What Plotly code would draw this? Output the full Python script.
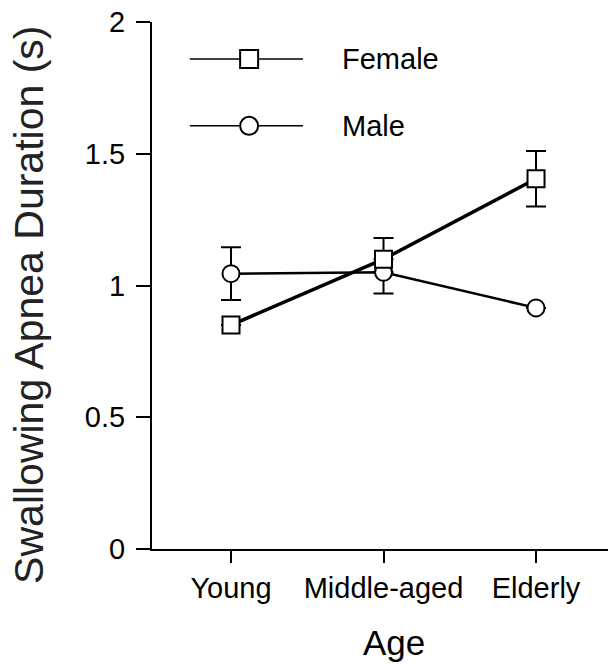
import plotly.graph_objects as go

categories = ["Young", "Middle-aged", "Elderly"]
female = [0.85, 1.10, 1.405]
female_err_plus = [0.0, 0.08, 0.105]
female_err_minus = [0.0, 0.0, 0.105]
male = [1.045, 1.05, 0.915]
male_err_plus = [0.10, 0.0, 0.0]
male_err_minus = [0.10, 0.08, 0.0]
y_tickvals = [0, 0.5, 1, 1.5, 2]
y_ticktext = ["0", "0.5", "1", "1.5", "2"]

FONT = "Arial, Liberation Sans, Helvetica, sans-serif"

fig = go.Figure()
fig.add_trace(go.Scatter(
    x=categories, y=male, name="Male", mode="lines+markers",
    line=dict(color="black", width=2.5),
    marker=dict(symbol="circle", size=17, color="white", line=dict(color="black", width=2)),
    error_y=dict(type="data", symmetric=False, array=male_err_plus, arrayminus=male_err_minus,
                 color="black", thickness=2, width=10),
))
fig.add_trace(go.Scatter(
    x=categories, y=female, name="Female", mode="lines+markers",
    line=dict(color="black", width=3.5),
    marker=dict(symbol="square", size=17, color="white", line=dict(color="black", width=2)),
    error_y=dict(type="data", symmetric=False, array=female_err_plus, arrayminus=female_err_minus,
                 color="black", thickness=2, width=10),
))

# manual legend
legend_items = [("Female", "rect", 0.93), ("Male", "circle", 0.803)]
for label, shp, yp in legend_items:
    fig.add_shape(type="line", xref="paper", yref="paper", x0=0.083, x1=0.331, y0=yp, y1=yp,
                  line=dict(color="black", width=1.5))
    fig.add_shape(type=shp, xref="paper", yref="paper", xsizemode="pixel", ysizemode="pixel",
                  xanchor=0.213, yanchor=yp, x0=-9, x1=9, y0=-9, y1=9,
                  fillcolor="white", line=dict(color="black", width=2))
    fig.add_annotation(text=label, xref="paper", yref="paper", x=0.412, y=yp,
                       xanchor="left", yanchor="middle", showarrow=False,
                       font=dict(family=FONT, size=29, color="black"))

fig.add_annotation(text="Swallowing Apnea Duration (s)", xref="paper", yref="paper",
                   x=-0.27, y=0.463, textangle=-90, xanchor="center", yanchor="middle",
                   showarrow=False, font=dict(family=FONT, size=41, color="#222"))
fig.add_annotation(text="Age", xref="paper", yref="paper", x=0.531, y=-0.178,
                   xanchor="center", yanchor="middle", showarrow=False,
                   font=dict(family=FONT, size=35, color="black"))

fig.update_layout(
    width=608, height=668,
    margin=dict(l=152, r=0, t=22, b=119, autoexpand=False),
    paper_bgcolor="white", plot_bgcolor="white",
    showlegend=False,
    font=dict(family=FONT, color="black"),
)
fig.update_xaxes(
    type="category", range=[-0.518, 2.472],
    showline=True, linecolor="black", linewidth=2,
    ticks="outside", ticklen=12, tickwidth=2, tickcolor="black",
    showgrid=False, zeroline=False,
    tickfont=dict(family=FONT, size=29, color="black"),
)
fig.update_yaxes(
    range=[0, 2], tickvals=y_tickvals, ticktext=y_ticktext,
    showline=True, linecolor="black", linewidth=2,
    ticks="outside", ticklen=14, tickwidth=2, tickcolor="black",
    showgrid=False, zeroline=False, ticklabelstandoff=5,
    ticklabeloverflow="allow",
    tickfont=dict(family=FONT, size=29, color="black"),
)

# remove the default 8px page margin so the figure fills the window exactly
fig.write_html("out.html", config={"displayModeBar": False},
               post_script="document.body.style.margin='0';")
